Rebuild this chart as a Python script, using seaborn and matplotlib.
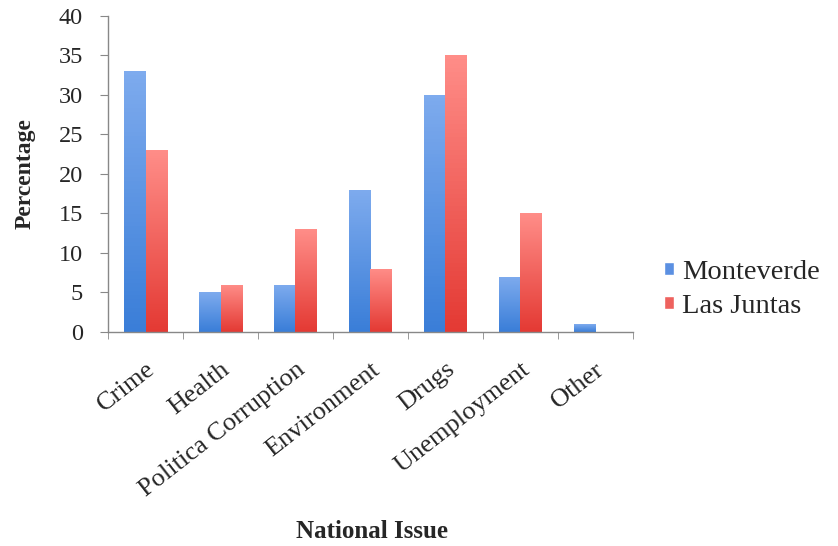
import numpy as np
import pandas as pd
import matplotlib
matplotlib.use("Agg")
import matplotlib.pyplot as plt
from matplotlib.colors import LinearSegmentedColormap
from matplotlib.patches import Patch
import seaborn as sns

issues = ["Crime", "Health", "Politica Corruption", "Environment", "Drugs", "Unemployment", "Other"]
monteverde = [33, 5, 6, 18, 30, 7, 1]
las_juntas = [23, 6, 13, 8, 35, 15, 0]
groups = ["Monteverde", "Las Juntas"]

df = pd.DataFrame({
    "issue": issues * 2,
    "value": monteverde + las_juntas,
    "group": [groups[0]] * len(issues) + [groups[1]] * len(issues),
})

# bottom -> top shading like the Excel gradient fill
shades = {
    "Monteverde": ("#3a7ed8", "#7eabee"),
    "Las Juntas": ("#e43a34", "#ff8d88"),
}
palette = {"Monteverde": "#5b90e2", "Las Juntas": "#ee625e"}

sns.set_style("white")
plt.rcParams["font.family"] = ["Liberation Serif", "DejaVu Serif"]

fig = plt.figure(figsize=(8.38, 5.46), dpi=100)
ax = fig.add_axes([0.129, 0.392, 0.626, 0.579])

sns.barplot(data=df, x="issue", y="value", hue="group", palette=palette,
            width=0.57, saturation=1, linewidth=0, legend=False, ax=ax)

# gradient fill on each bar
grad = np.linspace(0, 1, 64).reshape(-1, 1)
bars = list(ax.patches)
for i, bar in enumerate(bars):
    grp = groups[i // len(issues)]
    cmap = LinearSegmentedColormap.from_list(grp, shades[grp])
    x0, y0 = bar.get_x(), bar.get_y()
    w, h = bar.get_width(), bar.get_height()
    if h <= 0:
        continue
    img = ax.imshow(grad, extent=[x0, x0 + w, y0, y0 + h], origin="lower",
                    cmap=cmap, aspect="auto", zorder=bar.get_zorder())
    img.set_clip_path(bar)
    bar.set_facecolor("none")

ax.set_xlim(-0.5, len(issues) - 0.5)
ax.set_ylim(0, 40)
ax.set_yticks(range(0, 41, 5))

ax.set_xticks(np.arange(-0.5, len(issues), 1), minor=True)
ax.tick_params(axis="x", which="major", length=0, labelsize=19, pad=19)
ax.tick_params(axis="x", which="minor", length=5, color="#888888", direction="out", bottom=True)
ax.tick_params(axis="y", length=6, color="#888888", labelsize=17.5, left=True,
               direction="out", pad=12)
for lbl in ax.get_xticklabels():
    lbl.set_rotation(38)
    lbl.set_ha("right")
    lbl.set_rotation_mode("anchor")

sns.despine(ax=ax)
for s in ["left", "bottom"]:
    ax.spines[s].set_color("#888888")
    ax.spines[s].set_linewidth(1)

ax.set_ylabel("")
ax.set_xlabel("")
fig.text(25 / 838, 1 - 174 / 546, "Percentage", rotation=90, ha="center", va="center",
         fontsize=17, fontweight="bold")
fig.text(372 / 838, 1 - 532 / 546, "National Issue", ha="center", va="center",
         fontsize=18, fontweight="bold")

handles = [Patch(facecolor=palette[g], label=g) for g in groups]
ax.legend(handles=handles, loc="center left", bbox_to_anchor=(1.06, 0.135), frameon=False,
          fontsize=20.5, handlelength=0.33, handleheight=0.33, handletextpad=0.3,
          labelspacing=0.3, borderaxespad=0, borderpad=0)

fig.savefig("out.png", dpi=100)
